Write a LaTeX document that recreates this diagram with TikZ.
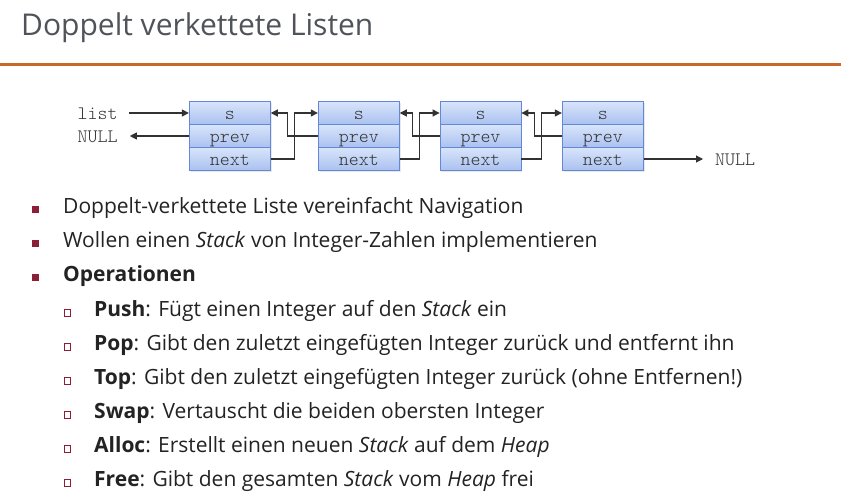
\documentclass[tikz,border=0pt]{standalone}
\usepackage{fontspec}
\setmainfont{Open Sans}
\setmonofont{Latin Modern Mono Light}
\usetikzlibrary{arrows.meta,calc,shadows}
\definecolor{titlegray}{RGB}{80,84,90}
\definecolor{textgray}{RGB}{35,35,35}
\definecolor{rulecol}{RGB}{200,104,44}
\definecolor{bullred}{RGB}{140,30,55}
\definecolor{celltop}{RGB}{216,228,250}
\definecolor{cellbot}{RGB}{170,193,240}
\definecolor{celldraw}{RGB}{100,136,214}
\definecolor{linegray}{RGB}{50,50,50}
\tikzset{
  cell/.style={draw=celldraw, line width=0.9pt, top color=celltop, bottom color=cellbot,
    minimum width=81pt, minimum height=23pt, inner sep=0pt, text height=13pt, text depth=0pt,
    font=\ttfamily\fontsize{19}{19}\selectfont, text=linegray,
    drop shadow={opacity=0.18, shadow xshift=1.2pt, shadow yshift=-1.2pt}},
  lbl/.style={inner sep=0pt, text height=13pt, text depth=0pt, font=\ttfamily\fontsize{19}{19}\selectfont, text=linegray},
  arr/.style={draw=linegray, line width=1.1pt, -{Triangle[length=7pt,width=7pt]}},
  body/.style={anchor=base west, inner sep=0pt, text=textgray, font=\fontsize{21}{25}\selectfont},
  bfill/.style={fill=bullred, minimum size=7pt, inner sep=0pt, anchor=south west},
  bhollow/.style={draw=bullred, line width=0.8pt, minimum size=6.5pt, inner sep=0pt, anchor=south west},
}
\begin{document}
\begin{tikzpicture}[x=1pt,y=-1pt]
\useasboundingbox[fill=white] (0,0) rectangle (841,497);
% title
\node[anchor=base west, inner sep=0pt, text=titlegray, font=\fontsize{30}{35}\selectfont] (title) at (21,36) {Doppelt verkettete Listen};
\draw[rulecol, line width=3pt] (0,64.5) -- (841,64.5);
% boxes
\foreach \i/\x in {1/229.8, 2/358.8, 3/480.5, 4/602.8}{
  \node[cell] (b\i s) at (\x,113) {s};
  \node[cell] (b\i p) at (\x,136) {prev};
  \node[cell] (b\i n) at (\x,159) {next};
}
\node[lbl, anchor=west] (list) at (77.5,113) {list};
\node[lbl, anchor=west] (nullL) at (77.5,136) {NULL};
\node[lbl, anchor=west] (nullR) at (715,159) {NULL};
\draw[arr] ([xshift=11pt]list.east) -- (b1s.west);
\draw[arr] (b1p.west) -- ([xshift=12pt]nullL.east);
\draw[arr] (b4n.east) -- ([xshift=-12pt]nullR.west);
\foreach \a/\b in {1/2, 2/3, 3/4}{
  \coordinate (g\a) at ($(b\a s.east)!0.5!(b\b s.west)$);
  \draw[arr] (b\a n.east) -| (g\a) -- (b\b s.west);
  \draw[arr] (b\b p.west) -| ([xshift=-7pt]g\a) -- (b\a s.east);
}
% bullets
\node[bfill] (m1) at (32,213.5) {};
\node[body] (t1) at (63,213.3) {Doppelt-verkettete Liste vereinfacht Navigation};
\node[bfill] (m2) at (32,247.5) {};
\node[body] (t2) at (63,247.3) {Wollen einen \textit{Stack} von Integer-Zahlen implementieren};
\node[bfill] (m3) at (32,281.5) {};
\node[body] (t3) at (63,281.3) {\textbf{Operationen}};
\node[bhollow] (s1) at (63.5,316.5) {};
\node[body] (u1) at (94,316.7) {\textbf{Push}: Fügt einen Integer auf den \textit{Stack} ein};
\node[bhollow] (s2) at (63.5,350.5) {};
\node[body] (u2) at (94,350.7) {\textbf{Pop}: Gibt den zuletzt eingefügten Integer zurück und entfernt ihn};
\node[bhollow] (s3) at (63.5,384.5) {};
\node[body] (u3) at (94,384.7) {\textbf{Top}: Gibt den zuletzt eingefügten Integer zurück (ohne Entfernen!)};
\node[bhollow] (s4) at (63.5,418.5) {};
\node[body] (u4) at (94,418.7) {\textbf{Swap}: Vertauscht die beiden obersten Integer};
\node[bhollow] (s5) at (63.5,452.5) {};
\node[body] (u5) at (94,452.7) {\textbf{Alloc}: Erstellt einen neuen \textit{Stack} auf dem \textit{Heap}};
\node[bhollow] (s6) at (63.5,486.5) {};
\node[body] (u6) at (94,486.7) {\textbf{Free}: Gibt den gesamten \textit{Stack} vom \textit{Heap} frei};
\end{tikzpicture}
\end{document}
